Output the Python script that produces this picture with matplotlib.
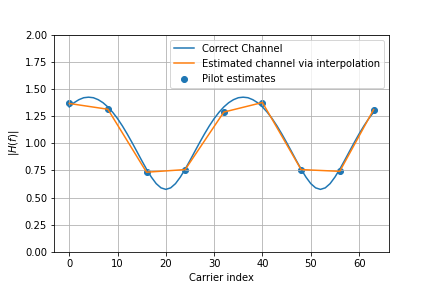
import matplotlib
matplotlib.use("Agg")
import matplotlib.pyplot as plt

carriers = list(range(64))
correct_channel = [
    1.334, 1.373, 1.401, 1.419, 1.424, 1.419, 1.401, 1.373,
    1.334, 1.285, 1.227, 1.160, 1.086, 1.007, 0.925, 0.842,
    0.762, 0.689, 0.629, 0.590, 0.576, 0.590, 0.629, 0.689,
    0.762, 0.842, 0.925, 1.007, 1.086, 1.160, 1.227, 1.285,
    1.334, 1.373, 1.401, 1.419, 1.424, 1.419, 1.401, 1.373,
    1.334, 1.285, 1.227, 1.160, 1.086, 1.007, 0.925, 0.842,
    0.762, 0.689, 0.629, 0.590, 0.576, 0.590, 0.629, 0.689,
    0.762, 0.842, 0.925, 1.007, 1.086, 1.160, 1.227, 1.285,
]
pilot_carriers = [0, 8, 16, 24, 32, 40, 48, 56, 63]
pilot_estimates = [1.366, 1.313, 0.734, 0.758, 1.287, 1.375, 0.758, 0.742, 1.31]

fig = plt.figure(figsize=(6, 4), dpi=72)
plt.subplots_adjust(bottom=0.125)
plt.plot(carriers, correct_channel, label='Correct Channel')
plt.plot(pilot_carriers, pilot_estimates, label='Estimated channel via interpolation')
plt.scatter(pilot_carriers, pilot_estimates, label='Pilot estimates')
plt.grid(True)
plt.xlabel('Carrier index')
plt.ylabel('$|H(f)|$')
plt.legend(fontsize=10)
plt.ylim(0, 2)
plt.savefig('out.png', dpi=72)
